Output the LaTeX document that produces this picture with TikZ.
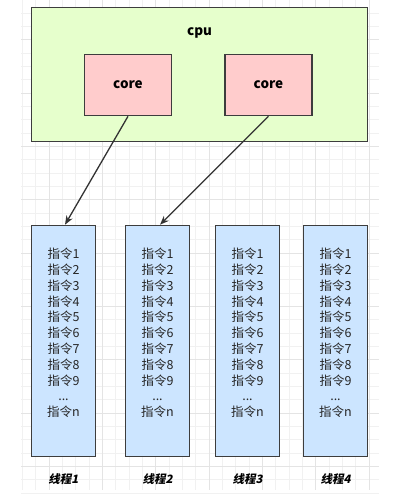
\documentclass[tikz,border=0pt]{standalone}
\usepackage{fontspec}
\setmainfont{Noto Sans CJK SC}
\newfontfamily\labelfont{Noto Sans CJK SC}[FakeSlant=0.2]
\usetikzlibrary{arrows.meta,positioning}

\definecolor{cpugreen}{HTML}{E6FFCC}
\definecolor{corered}{HTML}{FFCCCC}
\definecolor{threadblue}{HTML}{CCE5FF}
\definecolor{boxline}{HTML}{3D3D3D}
\definecolor{arrowgray}{HTML}{333333}
\definecolor{gridminor}{HTML}{F1F1F1}
\definecolor{gridmajor}{HTML}{E4E4E4}

\tikzset{
  box/.style={draw=boxline, line width=1.6pt},
  cpubox/.style={box, fill=cpugreen, minimum width=336pt, minimum height=134pt},
  corebox/.style={box, fill=corered, minimum width=87pt, minimum height=61pt,
    font=\bfseries\fontsize{13.5}{13.5}\selectfont},
  threadbox/.style={box, fill=threadblue, minimum width=64pt, minimum height=231pt},
  cmdlist/.style={align=center, inner sep=0pt, text=black!85,
    font=\fontsize{12.5}{15.8}\selectfont},
  threadlabel/.style={font=\labelfont\bfseries\fontsize{11.5}{11.5}\selectfont},
  link/.style={-{Stealth[length=9pt,width=7pt]}, line width=1.3pt, draw=arrowgray}
}

\begin{document}
\begin{tikzpicture}[x=1pt,y=-1pt]
  \useasboundingbox (0,0) rectangle (406,502);

  % background grid
  \foreach \k in {0,...,26}
    \draw[gridminor,line width=0.8pt] ({22.4+13.333*\k},0) -- ({22.4+13.333*\k},490);
  \foreach \k in {0,...,36}
    \draw[gridminor,line width=0.8pt] (21,{13.03+13.333*\k}) -- (379,{13.03+13.333*\k});
  \foreach \k in {0,...,6}
    \draw[gridmajor,line width=0.8pt] ({49.1+53.333*\k},0) -- ({49.1+53.333*\k},490);
  \foreach \k in {0,...,8}
    \draw[gridmajor,line width=0.8pt] (21,{39.7+53.333*\k}) -- (379,{39.7+53.333*\k});

  % cpu and cores
  \node[cpubox] (cpu) at (199.5,74.5) {};
  \node[font=\bfseries\fontsize{13.5}{13.5}\selectfont] (cpulabel) at (199.5,33) {cpu};
  \node[corebox] (c1) at (128,85) {core};
  \node[corebox] (c2) at (268.5,85) {core};

  % threads
  \foreach \i/\x in {1/63.5,2/157.5,3/247.5,4/335.5} {
    \node[threadbox] (t\i) at (\x,341) {};
    \node[cmdlist] (l\i) at (\x,333) {指令1\\指令2\\指令3\\指令4\\指令5\\指令6\\指令7\\指令8\\指令9\\...\\指令n};
    \node[threadlabel] (n\i) at (\x,479) {线程\i};
  }

  \draw[link] (c1.south) -- ([xshift=1.5pt]t1.north);
  \draw[link] (c2.south) -- ([xshift=2.5pt]t2.north);
\end{tikzpicture}
\end{document}
